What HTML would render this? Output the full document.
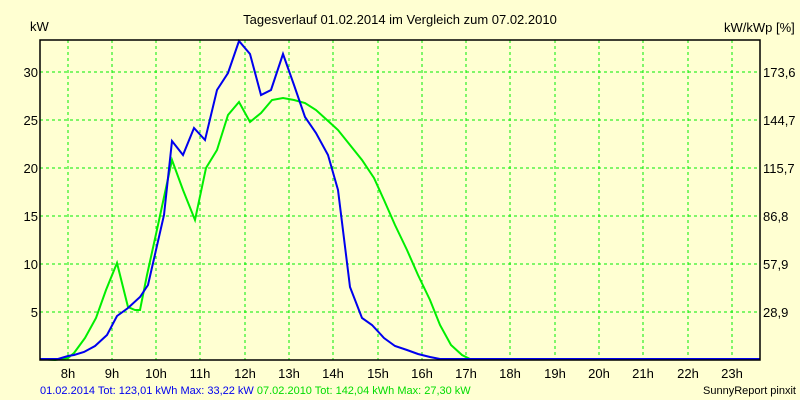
<!DOCTYPE html>
<html><head><meta charset="utf-8"><style>
html,body{margin:0;padding:0;background:#ffffd2;}
svg{display:block;font-family:"Liberation Sans",sans-serif;}
</style></head><body>
<svg width="800" height="400" viewBox="0 0 800 400">
<rect width="800" height="400" fill="#ffffd2"/>
<g stroke="#00ee00" stroke-width="1" stroke-dasharray="3,3">
<line x1="40" x2="760" y1="72" y2="72"/><line x1="40" x2="760" y1="120" y2="120"/>
<line x1="40" x2="760" y1="168" y2="168"/><line x1="40" x2="760" y1="216" y2="216"/>
<line x1="40" x2="760" y1="264" y2="264"/><line x1="40" x2="760" y1="312" y2="312"/>
<line x1="68" x2="68" y1="40" y2="360"/><line x1="112" x2="112" y1="40" y2="360"/>
<line x1="156" x2="156" y1="40" y2="360"/><line x1="200" x2="200" y1="40" y2="360"/>
<line x1="245" x2="245" y1="40" y2="360"/><line x1="289" x2="289" y1="40" y2="360"/>
<line x1="333" x2="333" y1="40" y2="360"/><line x1="378" x2="378" y1="40" y2="360"/>
<line x1="422" x2="422" y1="40" y2="360"/><line x1="466" x2="466" y1="40" y2="360"/>
<line x1="510" x2="510" y1="40" y2="360"/><line x1="555" x2="555" y1="40" y2="360"/>
<line x1="599" x2="599" y1="40" y2="360"/><line x1="643" x2="643" y1="40" y2="360"/>
<line x1="688" x2="688" y1="40" y2="360"/><line x1="732" x2="732" y1="40" y2="360"/>
</g>
<polyline fill="none" stroke="#00ee00" stroke-width="2" points="40,359 55,360 68,358 74,353 85,338 96,318 106,290 117,263 128,307 135,310 140,310 147,275 158,225 172,160 183,190 195,220 206,168 217,150 228,115 239,102 250,122 261,113 272,100 283,98 294,100 305,103 316,110 327,120 338,130 350,145 362,160 374,178 384,200 395,225 407,250 418,275 430,300 440,325 451,345 462,355 470,359 760,359"/>
<polyline fill="none" stroke="#0000ee" stroke-width="2" points="40,359 58,359 68,356 74,355 84,352 95,346 107,335 117,316 128,308 140,297 148,285 156,250 164,215 172,141 183,155 194,128 205,140 217,90 228,73 239,41 250,54 261,95 271,90 283,54 294,85 305,117 316,133 328,155 338,190 350,287 362,318 372,325 384,338 395,346 407,350 418,354 430,357 440,359 760,359"/>
<rect x="40" y="40" width="720" height="320" fill="none" stroke="#000" stroke-width="1.5"/>
<g font-size="13" fill="#000">
<text x="400" y="24" text-anchor="middle" font-size="13">Tagesverlauf 01.02.2014 im Vergleich zum 07.02.2010</text>
<text x="30" y="31">kW</text>
<text x="724" y="32">kW/kWp [%]</text>
<g text-anchor="end">
<text x="38" y="77">30</text><text x="38" y="125">25</text><text x="38" y="173">20</text>
<text x="38" y="221">15</text><text x="38" y="269">10</text><text x="38" y="317">5</text>
</g>
<text x="763" y="77">173,6</text><text x="763" y="125">144,7</text><text x="763" y="173">115,7</text>
<text x="763" y="221">86,8</text><text x="763" y="269">57,9</text><text x="763" y="317">28,9</text>
<g text-anchor="middle">
<text x="68" y="378">8h</text><text x="112" y="378">9h</text><text x="156" y="378">10h</text>
<text x="200" y="378">11h</text><text x="245" y="378">12h</text><text x="289" y="378">13h</text>
<text x="333" y="378">14h</text><text x="378" y="378">15h</text><text x="422" y="378">16h</text>
<text x="466" y="378">17h</text><text x="510" y="378">18h</text><text x="555" y="378">19h</text>
<text x="599" y="378">20h</text><text x="643" y="378">21h</text><text x="688" y="378">22h</text>
<text x="732" y="378">23h</text>
</g>
</g>
<text x="40" y="394" font-size="11"><tspan fill="#0000ee">01.02.2014 Tot: 123,01 kWh Max: 33,22 kW </tspan><tspan fill="#00dd00">07.02.2010 Tot: 142,04 kWh Max: 27,30 kW</tspan></text>
<text x="796" y="394" font-size="11" text-anchor="end" fill="#000">SunnyReport pinxit</text>
</svg>
</body></html>
